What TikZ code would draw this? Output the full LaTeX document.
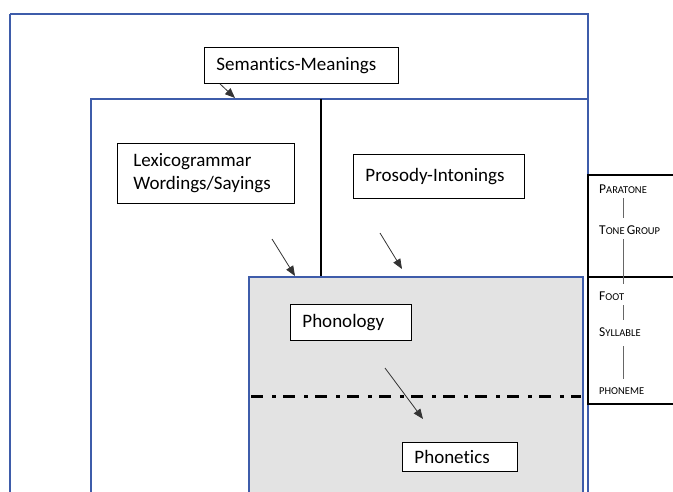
\documentclass[tikz,border=0pt]{standalone}
\usepackage{fontspec}
\setmainfont[Ligatures=NoCommon]{Carlito}
\usetikzlibrary{arrows.meta}
\definecolor{frameblue}{RGB}{62,92,170}
\definecolor{phonogrey}{RGB}{227,227,227}
\tikzstyle{frame}=[draw=frameblue, line width=2pt]
\tikzstyle{lbl}=[draw, line width=0.9pt, fill=white, anchor=north west, align=left,
  inner xsep=12pt, inner ysep=0pt, font=\fontsize{19}{23}\selectfont]
\tikzstyle{pointer}=[draw=black!80, line width=0.8pt, -{Triangle[length=10pt,width=8pt]}]
\tikzstyle{rank}=[anchor=base west, inner sep=0pt, text height=8.5pt, text depth=0pt]
\tikzstyle{link}=[draw=black!60, line width=0.9pt, shorten <=4pt, shorten >=8pt]
\newcommand{\fsc}[2]{{\fontsize{13.5}{15}\selectfont #1}{\fontsize{10.5}{12}\selectfont #2}}

\begin{document}
\begin{tikzpicture}[x=1pt,y=-1pt]
  \useasboundingbox (0,0) rectangle (673,492);
  % strata
  \draw[frame] (10,14) -- (588,14) -- (588,500);
  \draw[frame] (10,500) -- (10,14);
  \draw[frame] (91,500) -- (91,99) -- (588,99);
  \draw[line width=1.6pt] (321,99) -- (321,277);
  \fill[phonogrey] (249,277) rectangle (583,500);
  \draw[frame] (249,500) -- (249,277) -- (583,277) -- (583,500);
  \draw[line width=3pt, dash pattern=on 12pt off 9pt on 4pt off 7pt]
    (251,396) -- (581,396);
  % rank scale column
  \draw[line width=1.2pt] (680,175) -- (588,175) -- (588,404) -- (680,404);
  \draw[line width=1.2pt] (588,277) -- (680,277);
  \coordinate (spine) at (623,0);
  \node[rank] (para) at (599,194) {\fsc{P}{ARATONE}};
  \node[rank] (tone) at (599,235) {\fsc{T}{ONE} \fsc{G}{ROUP}};
  \node[rank] (foot) at (599,301) {\fsc{F}{OOT}};
  \node[rank] (syll) at (599,337) {\fsc{S}{YLLABLE}};
  \node[rank, text height=6.5pt] (phon) at (599,394) {\fsc{}{PHONEME}};
  \draw[link] (para.south -| spine) -- (tone.north -| spine);
  \draw[link] (tone.south -| spine) -- (foot.north -| spine);
  \draw[link] (foot.south -| spine) -- (syll.north -| spine);
  \draw[link, shorten <=9pt] (syll.south -| spine) -- (phon.north -| spine);
  % labels
  \node[lbl, text width=170pt, minimum height=36pt] (sem) at (204,47) {Semantics-Meanings};
  \node[lbl, inner xsep=16pt, text width=145pt, minimum height=60pt] (lex) at (117,143)
    {Lexicogrammar\\Wordings/Sayings};
  \node[lbl, text width=147pt, minimum height=44pt] (pros) at (353,154) {Prosody-Intonings};
  \node[lbl, text width=97pt, minimum height=36pt] (phnl) at (290,304) {Phonology};
  \node[lbl, text width=91pt, minimum height=29pt] (phnt) at (402,442) {Phonetics};
  % realisation arrows
  \coordinate (semend) at (235,98);
  \coordinate (lextail) at (272,239);
  \coordinate (lexend) at (295,276);
  \coordinate (prostail) at (380,233);
  \coordinate (prosend) at (402,269);
  \coordinate (phntail) at (385,368);
  \coordinate (phnend) at (423,419);
  \draw[pointer] ([xshift=16pt]sem.south west) -- (semend);
  \draw[pointer] (lextail) -- (lexend);
  \draw[pointer] (prostail) -- (prosend);
  \draw[pointer] (phntail) -- (phnend);
\end{tikzpicture}
\end{document}
